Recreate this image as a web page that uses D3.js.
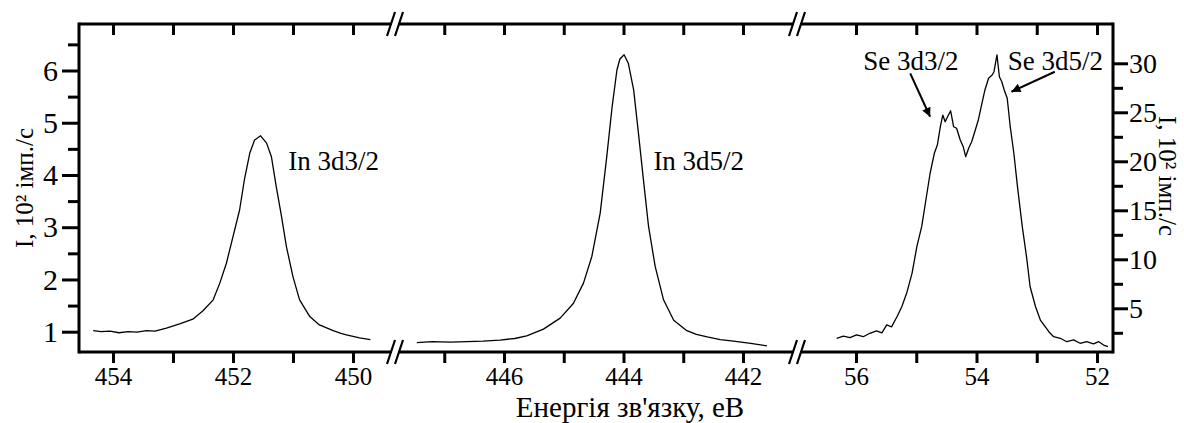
<!DOCTYPE html>
<html>
<head>
<meta charset="utf-8">
<script src="https://cdn.jsdelivr.net/npm/d3@7"></script>
<style>
  body { margin: 0; background: #fff; }
  svg { display: block; font-family: "Liberation Serif", "Times New Roman", serif; }
</style>
</head>
<body>
<div id="chart"></div>
<script>
// In 3d3/2 (left panel), energies in eV and intensity in 10^2 counts/s
const in32E = [454.33, 454.2, 454.05, 453.9, 453.75, 453.6, 453.44, 453.3, 453.11, 452.89, 452.67, 452.5, 452.33, 452.22, 452.11, 452.0, 451.89, 451.81, 451.72, 451.64, 451.54, 451.44, 451.36, 451.28, 451.19, 451.11, 451.0, 450.89, 450.72, 450.56, 450.33, 450.2, 450.11, 450.0, 449.89, 449.71];
const in32I = [1.02, 1.0, 1.01, 0.98, 1.0, 0.99, 1.02, 1.01, 1.07, 1.15, 1.24, 1.40, 1.61, 1.93, 2.31, 2.82, 3.33, 3.91, 4.42, 4.67, 4.75, 4.61, 4.35, 3.78, 3.20, 2.63, 2.05, 1.61, 1.29, 1.13, 1.02, 0.97, 0.94, 0.91, 0.88, 0.85];

// In 3d5/2 (middle panel)
const in52E = [447.46, 447.2, 446.9, 446.62, 446.35, 446.07, 445.82, 445.62, 445.34, 445.06, 444.84, 444.67, 444.53, 444.39, 444.28, 444.19, 444.11, 444.06, 443.99, 443.92, 443.83, 443.75, 443.66, 443.58, 443.47, 443.33, 443.16, 442.94, 442.78, 442.6, 442.38, 442.16, 441.9, 441.6];
const in52I = [0.79, 0.81, 0.80, 0.81, 0.82, 0.84, 0.87, 0.92, 1.05, 1.26, 1.54, 1.93, 2.44, 3.27, 4.35, 5.31, 6.01, 6.22, 6.30, 6.14, 5.63, 4.80, 3.84, 3.01, 2.25, 1.61, 1.22, 1.02, 0.95, 0.90, 0.85, 0.82, 0.78, 0.73];

// Se 3d (right panel, right axis)
const seE = [56.32, 56.21, 56.10, 55.99, 55.88, 55.77, 55.66, 55.57, 55.49, 55.41, 55.32, 55.24, 55.16, 55.07, 54.99, 54.91, 54.84, 54.77, 54.70, 54.65, 54.60, 54.56, 54.52, 54.48, 54.43, 54.38, 54.33, 54.27, 54.22, 54.18, 54.13, 54.08, 54.02, 53.97, 53.91, 53.86, 53.80, 53.74, 53.71, 53.66, 53.62, 53.58, 53.54, 53.49, 53.44, 53.38, 53.32, 53.24, 53.17, 53.11, 53.02, 52.94, 52.86, 52.80, 52.72, 52.61, 52.50, 52.39, 52.28, 52.17, 52.06, 51.97, 51.89, 51.82];
const seI = [1.94, 2.17, 2.0, 2.28, 2.1, 2.45, 2.7, 2.5, 3.3, 3.1, 4.14, 5.16, 6.53, 8.57, 11.29, 13.33, 16.05, 18.78, 20.82, 21.66, 23.53, 24.72, 24.04, 24.55, 25.16, 23.53, 23.37, 22.17, 21.49, 20.47, 21.33, 22.0, 23.19, 24.21, 25.92, 27.28, 28.47, 28.81, 29.14, 30.85, 28.63, 28.12, 27.28, 26.43, 23.53, 20.82, 17.41, 13.33, 10.27, 7.2, 5.16, 3.8, 3.12, 2.61, 2.1, 1.94, 1.59, 1.77, 1.43, 1.59, 1.36, 1.59, 1.25, 1.08];

// ticks
const ticks1 = [454, 453, 452, 451, 450];
const ticks2 = [447, 446, 445, 444, 443, 442];
const ticks3 = [56, 55, 54, 53, 52];
const leftMajor = [1, 2, 3, 4, 5, 6];
const leftMinor = [1.5, 2.5, 3.5, 4.5, 5.5, 6.5];
const rightMajor = [5, 10, 15, 20, 25, 30];
const rightMinor = [2.5, 7.5, 12.5, 17.5, 22.5, 27.5];

const yLabel = "I, 10² імп./с";
const xLabel = "Енергія зв'язку, еВ";
const peakLabels = ["In 3d3/2", "In 3d5/2", "Se 3d3/2", "Se 3d5/2"];

const width = 1184;
const height = 423;
const frame = { left: 79, right: 1113, top: 24, bottom: 352 };
// pixel extents of the three broken segments
const segs = [[79, 391], [399, 793], [801, 1113]];

const svg = d3.select("#chart").append("svg")
  .attr("width", width)
  .attr("height", height);

const x1 = d3.scaleLinear().domain([454, 450]).range([113, 353]);
const x2 = d3.scaleLinear().domain([446, 442]).range([504, 743]);
const x3 = d3.scaleLinear().domain([56, 52]).range([856, 1097]);
const yL = d3.scaleLinear().domain([1, 6]).range([331.7, 70.5]);
const yR = d3.scaleLinear().domain([5, 30]).range([308.3, 63.3]);

// curves
function drawCurve(xs, ys, E, I) {
  const pts = E.map((e, i) => [e, I[i]]);
  const line = d3.line().x(d => xs(d[0])).y(d => ys(d[1]));
  svg.append("path")
    .datum(pts)
    .attr("d", line)
    .attr("fill", "none")
    .attr("stroke", "#000")
    .attr("stroke-width", 1.3)
    .attr("stroke-linejoin", "round");
}
drawCurve(x1, yL, in32E, in32I);
drawCurve(x2, yL, in52E, in52I);
drawCurve(x3, yR, seE, seI);

// bottom / top axes for each segment
const xs = [x1, x2, x3];
const tks = [ticks1, ticks2, ticks3];
xs.forEach((sc, k) => {
  svg.append("g")
    .attr("transform", `translate(0,${frame.bottom})`)
    .call(d3.axisBottom(sc).tickValues(tks[k]).tickSize(11).tickPadding(4)
      .tickFormat(d => d % 2 === 0 ? d : ""))
    .call(g => g.select(".domain").remove())
    .call(g => g.selectAll("line").attr("stroke-width", 3))
    .call(g => g.selectAll("text").attr("font-size", 25).attr("font-family", "Liberation Serif").attr("fill", "#000"));
  svg.append("g")
    .attr("transform", `translate(0,${frame.top})`)
    .call(d3.axisTop(sc).tickValues(tks[k]).tickSize(-11).tickFormat(""))
    .call(g => g.select(".domain").remove())
    .call(g => g.selectAll("line").attr("stroke-width", 3));
});

// left axis
svg.append("g")
  .attr("transform", `translate(${frame.left},0)`)
  .call(d3.axisLeft(yL).tickValues(leftMajor).tickSize(17).tickPadding(4).tickFormat(d3.format("d")))
  .call(g => g.select(".domain").remove())
  .call(g => g.selectAll("line").attr("stroke-width", 3))
  .call(g => g.selectAll("text").attr("font-size", 30).attr("font-family", "Liberation Serif").attr("fill", "#000"));
svg.append("g")
  .attr("transform", `translate(${frame.left},0)`)
  .call(d3.axisLeft(yL).tickValues(leftMinor).tickSize(11).tickFormat(""))
  .call(g => g.select(".domain").remove())
  .call(g => g.selectAll("line").attr("stroke-width", 3));

// right axis
svg.append("g")
  .attr("transform", `translate(${frame.right},0)`)
  .call(d3.axisRight(yR).tickValues(rightMajor).tickSize(15).tickPadding(1).tickFormat(d3.format("d")))
  .call(g => g.select(".domain").remove())
  .call(g => g.selectAll("line").attr("stroke-width", 3))
  .call(g => g.selectAll("text").attr("font-size", 28).attr("font-family", "Liberation Serif").attr("fill", "#000"));
svg.append("g")
  .attr("transform", `translate(${frame.right},0)`)
  .call(d3.axisRight(yR).tickValues(rightMinor).tickSize(10).tickFormat(""))
  .call(g => g.select(".domain").remove())
  .call(g => g.selectAll("line").attr("stroke-width", 3));

// frame with breaks
const frameG = svg.append("g").attr("stroke", "#000").attr("stroke-width", 3).attr("stroke-linecap", "square");
frameG.append("line").attr("x1", frame.left).attr("x2", frame.left).attr("y1", frame.top).attr("y2", frame.bottom);
frameG.append("line").attr("x1", frame.right).attr("x2", frame.right).attr("y1", frame.top).attr("y2", frame.bottom);
[frame.top, frame.bottom].forEach(yy => {
  segs.forEach(s => {
    frameG.append("line").attr("x1", s[0]).attr("x2", s[1]).attr("y1", yy).attr("y2", yy)
      .attr("stroke-linecap", "butt");
  });
  // break marks //
  [segs[0][1], segs[1][0], segs[1][1], segs[2][0]].forEach(bx => {
    frameG.append("line")
      .attr("x1", bx - 4).attr("y1", yy + 12)
      .attr("x2", bx + 4).attr("y2", yy - 12)
      .attr("stroke-width", 2.2).attr("stroke-linecap", "butt");
  });
});

// axis titles
svg.append("text")
  .attr("x", 630).attr("y", 416.5)
  .attr("text-anchor", "middle")
  .attr("font-size", 29)
  .text(xLabel);

svg.append("text")
  .attr("transform", "translate(33,188) rotate(-90)")
  .attr("text-anchor", "middle")
  .attr("font-size", 25)
  .text(yLabel);

svg.append("text")
  .attr("transform", "translate(1159,176) rotate(90)")
  .attr("text-anchor", "middle")
  .attr("font-size", 25)
  .text(yLabel);

// peak labels
svg.append("text").attr("x", x1(451.08)).attr("y", yL(4.1)).attr("font-size", 27).text(peakLabels[0]);
svg.append("text").attr("x", x2(443.5)).attr("y", yL(4.1)).attr("font-size", 27).text(peakLabels[1]);
svg.append("text").attr("x", x3(55.88)).attr("y", yR(29.32)).attr("font-size", 27).text(peakLabels[2]);
svg.append("text").attr("x", x3(53.48)).attr("y", yR(29.32)).attr("font-size", 27).text(peakLabels[3]);

// arrows
svg.append("defs").append("marker")
  .attr("id", "arrow")
  .attr("viewBox", "0 0 10 10")
  .attr("refX", 10).attr("refY", 5)
  .attr("markerWidth", 14).attr("markerHeight", 9)
  .attr("markerUnits", "userSpaceOnUse")
  .attr("orient", "auto")
  .append("path").attr("d", "M0,0L10,5L0,10z").attr("fill", "#000");

function arrow(e0, v0, e1, v1) {
  svg.append("line")
    .attr("x1", x3(e0)).attr("y1", yR(v0))
    .attr("x2", x3(e1)).attr("y2", yR(v1))
    .attr("stroke", "#000").attr("stroke-width", 2)
    .attr("marker-end", "url(#arrow)");
}
arrow(55.10, 28.98, 54.77, 24.55);
arrow(52.70, 29.14, 53.42, 27.1);
</script>
</body>
</html>
